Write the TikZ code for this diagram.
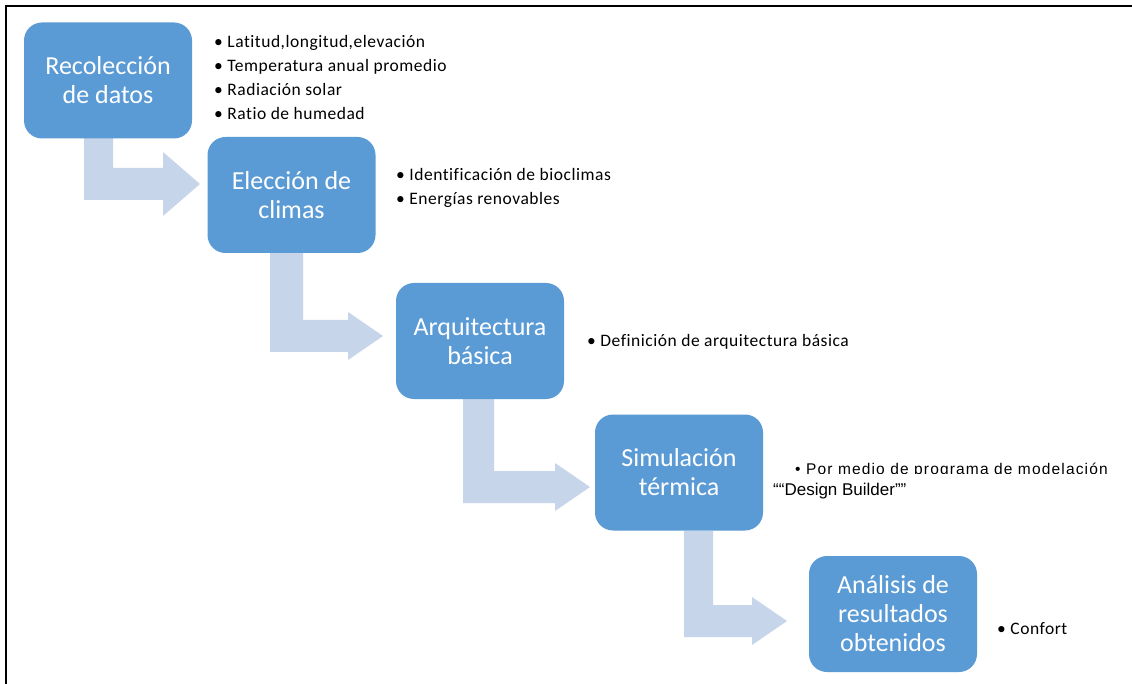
\documentclass[tikz,border=0pt]{standalone}
\usepackage{fontspec}
\setmainfont[Ligatures={NoCommon}]{Carlito}
\newfontfamily\bulletfont[Ligatures={NoCommon},LetterSpace=3]{Carlito}
\newfontfamily\arialsp[LetterSpace=7.5]{Liberation Sans}
\newfontfamily\arialf{Liberation Sans}
\definecolor{boxblue}{HTML}{5B9BD5}
\definecolor{arrowblue}{HTML}{C7D5EA}
\tikzset{
  stepbox/.style={fill=boxblue, rounded corners=18pt, minimum width=168pt, minimum height=116pt,
    text=white, align=center, inner sep=0pt, font=\fontsize{26}{29}\selectfont},
  bullet/.style={anchor=base west, inner sep=0pt, font=\bulletfont\fontsize{17.5}{24}\selectfont},
  bentarrow/.style={fill=arrowblue, draw=none},
}
\begin{document}
\begin{tikzpicture}[x=1pt,y=-1pt]
\useasboundingbox (0,0) rectangle (1132,684);
\fill[white] (0,0) rectangle (1132,684);
% frame
\draw[line width=2pt] (5.5,684) -- (5.5,6.5) -- (1132,6.5);

% bent arrows
\fill[bentarrow] (84,138) -- (84,200) -- (163,200) -- (163,216) -- (200,184) -- (163,152) -- (163,168) -- (113,168) -- (113,138) -- cycle;
\fill[bentarrow] (270,253) -- (270,352) -- (348,352) -- (348,360) -- (383,336) -- (348,312) -- (348,320) -- (303,320) -- (303,253) -- cycle;
\fill[bentarrow] (463,399) -- (463,503) -- (555,503) -- (555,511) -- (590,487) -- (555,463) -- (555,471) -- (494,471) -- (494,399) -- cycle;
\fill[bentarrow] (684,531) -- (684,637) -- (752,637) -- (752,645) -- (787,621) -- (752,597) -- (752,605) -- (713,605) -- (713,531) -- cycle;

% boxes
\node[stepbox] (b1) at (108,80.5) {Recolección\\de datos};
\node[stepbox] (b2) at (291.5,195) {Elección de\\climas};
\node[stepbox] (b3) at (480,341) {Arquitectura\\básica};
\node[stepbox] (b4) at (679,472.5) {Simulación\\térmica};
\node[stepbox] (b5) at (893,614) {Análisis de\\resultados\\obtenidos};

% bullet texts
\node[bullet] (t1a) at (214,48) {\textbullet\ Latitud,longitud,elevación};
\node[bullet] (t1b) at (214,72) {\textbullet\ Temperatura anual promedio};
\node[bullet] (t1c) at (214,96) {\textbullet\ Radiación solar};
\node[bullet] (t1d) at (214,120) {\textbullet\ Ratio de humedad};
\node[bullet] (t2a) at (396,181) {\textbullet\ Identificación de bioclimas};
\node[bullet] (t2b) at (396,205) {\textbullet\ Energías renovables};
\node[bullet] (t3) at (587,347) {\textbullet\ Definición de arquitectura básica};
\begin{scope}
\clip (780,440) rectangle (1132,473);
\node[anchor=base west, inner sep=0pt, font=\arialsp\fontsize{15.5}{18}\selectfont] (t4) at (795,474) {\textbullet\ Por medio de programa de modelación};
\end{scope}
\node[anchor=base west, inner sep=0pt, font=\arialf\fontsize{17}{18}\selectfont] (t4b) at (773,495) {““Design Builder””};
\node[bullet] (t5) at (997,634) {\textbullet\ Confort};
\end{tikzpicture}
\end{document}
